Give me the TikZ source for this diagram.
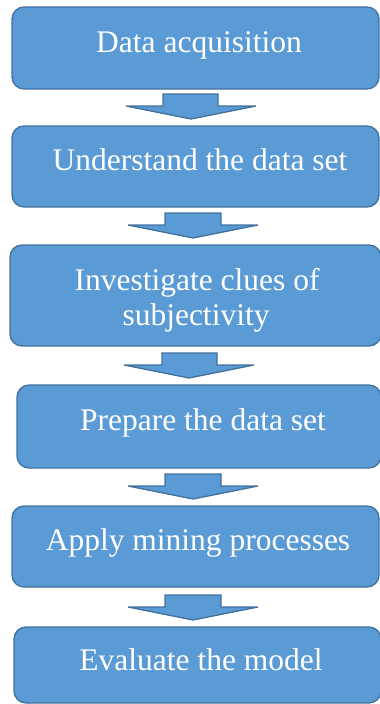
\documentclass[tikz,border=0pt]{standalone}
\usepackage{fontspec}
\setmainfont{Liberation Serif}
\definecolor{boxfill}{HTML}{5B9BD5}
\definecolor{boxline}{HTML}{41719C}
\newcommand\blockarr[4]{% left, right, top, tip x
  \draw[arrowshape] (#1,#3) -- (#2,#3) -- (#2,#3+12) -- (#4+65,#3+12) -- (#4,#3+25) -- (#4-65,#3+12) -- (#1,#3+12) -- cycle;}
\begin{document}
\begin{tikzpicture}[x=1pt,y=-1pt,
  box/.style={draw=boxline, fill=boxfill, line width=1.3pt, rounded corners=12pt},
  arrowshape/.style={draw=boxline, fill=boxfill, line width=1.3pt, line join=miter},
  lbl/.style={text=white, font=\fontsize{31.5}{35}\selectfont, anchor=base, inner sep=0pt}]
\useasboundingbox (0,0) rectangle (380,704);
\begin{scope}
\clip (0,0) rectangle (380,704);
\draw[box] (12,7) rectangle (379,89);
\node[lbl] (t1) at (199,52) {Data acquisition};
\blockarr{163}{218}{94}{191}
\draw[box] (12,126) rectangle (379,207);
\node[lbl] (t2) at (200,170) {Understand the data set};
\blockarr{165}{221}{213}{193}
\draw[box] (10,245) rectangle (381,346);
\node[lbl] (t3a) at (197,290) {Investigate clues of};
\node[lbl] (t3b) at (196,325) {subjectivity};
\blockarr{162}{217}{353}{189}
\draw[box] (17,385) rectangle (381,468);
\node[lbl] (t4) at (203,430) {Prepare the data set};
\blockarr{165}{221}{474}{193}
\draw[box] (12,506) rectangle (379,587);
\node[lbl] (t5) at (198,550) {Apply mining processes};
\blockarr{165}{221}{595}{193}
\draw[box] (14,627) rectangle (381,703);
\node[lbl] (t6) at (201,670) {Evaluate the model};
\end{scope}
\end{tikzpicture}
\end{document}
